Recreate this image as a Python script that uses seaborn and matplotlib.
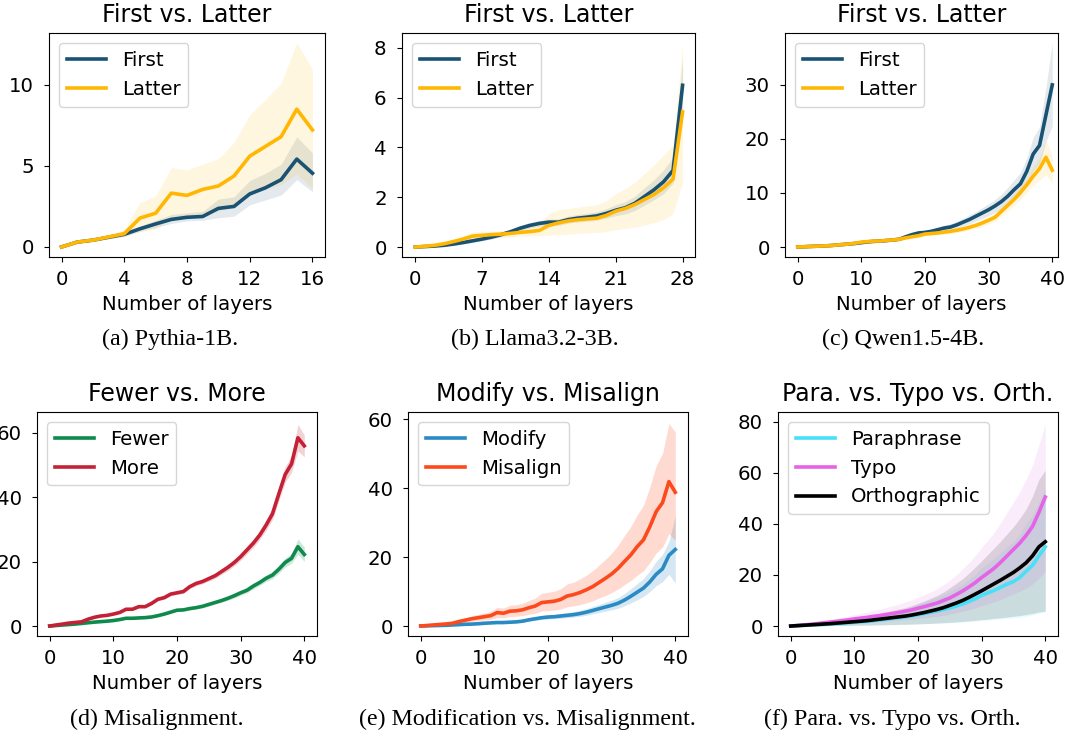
import matplotlib
matplotlib.use("Agg")
import matplotlib.pyplot as plt
import numpy as np
import pandas as pd
import seaborn as sns

# ---------------------------------------------------------------- data
layers_a = list(range(17))
layers_b = list(range(29))
layers_40 = list(range(41))

# (a) Pythia-1B
first_a = [0, 0.3, 0.42, 0.6, 0.78, 1.12, 1.42, 1.70, 1.83, 1.88, 2.38, 2.50, 3.27, 3.65, 4.15, 5.42, 4.55]
first_a_lo = [0, 0.25, 0.35, 0.5, 0.66, 0.95, 1.2, 1.45, 1.6, 1.65, 1.8, 1.9, 2.6, 2.9, 3.2, 4.15, 3.4]
first_a_hi = [0, 0.35, 0.5, 0.7, 0.9, 1.3, 1.65, 2.0, 2.1, 2.2, 2.95, 3.1, 4.1, 4.55, 5.1, 6.8, 5.8]
latter_a = [0, 0.3, 0.42, 0.62, 0.82, 1.78, 2.08, 3.32, 3.18, 3.55, 3.76, 4.38, 5.60, 6.20, 6.80, 8.50, 7.22]
latter_a_lo = [0, 0.25, 0.35, 0.5, 0.62, 1.0, 1.1, 1.8, 1.75, 2.0, 2.2, 2.55, 3.25, 3.55, 3.85, 4.5, 3.6]
latter_a_hi = [0, 0.35, 0.5, 0.75, 1.05, 2.75, 3.15, 4.9, 4.75, 5.1, 5.45, 6.45, 8.15, 9.1, 10.1, 12.6, 10.95]

# (b) Llama3.2-3B
first_b = [0, 0.02, 0.04, 0.07, 0.12, 0.18, 0.25, 0.32, 0.4, 0.5, 0.62, 0.76, 0.87, 0.95, 1.0,
           1.0, 1.1, 1.16, 1.2, 1.25, 1.35, 1.48, 1.58, 1.76, 2.03, 2.3, 2.62, 3.08, 6.5]
first_b_lo = [0, 0.01, 0.02, 0.04, 0.08, 0.13, 0.19, 0.25, 0.32, 0.42, 0.53, 0.66, 0.76, 0.83, 0.88,
              0.87, 0.96, 1.01, 1.04, 1.08, 1.16, 1.26, 1.33, 1.47, 1.68, 1.9, 2.14, 2.56, 5.4]
first_b_hi = [0, 0.03, 0.06, 0.1, 0.16, 0.23, 0.31, 0.39, 0.48, 0.58, 0.71, 0.86, 0.98, 1.07, 1.12,
              1.13, 1.24, 1.31, 1.36, 1.42, 1.54, 1.7, 1.83, 2.05, 2.38, 2.7, 3.1, 3.6, 7.6]
latter_b = [0, 0.03, 0.07, 0.13, 0.22, 0.32, 0.44, 0.47, 0.5, 0.52, 0.55, 0.59, 0.62, 0.67, 0.87,
            0.97, 1.05, 1.1, 1.13, 1.16, 1.27, 1.44, 1.55, 1.71, 1.91, 2.11, 2.38, 2.73, 5.43]
latter_b_lo = [0, 0.01, 0.03, 0.07, 0.12, 0.2, 0.3, 0.33, 0.36, 0.38, 0.4, 0.42, 0.44, 0.45, 0.48,
               0.5, 0.52, 0.55, 0.57, 0.58, 0.62, 0.7, 0.75, 0.8, 0.88, 0.98, 1.1, 1.35, 2.6]
latter_b_hi = [0, 0.05, 0.1, 0.2, 0.32, 0.45, 0.6, 0.62, 0.63, 0.65, 0.7, 0.78, 0.85, 0.95, 1.35,
               1.5, 1.55, 1.6, 1.65, 1.7, 1.85, 2.15, 2.35, 2.6, 2.95, 3.3, 3.7, 4.1, 8.15]

# (c) Qwen1.5-4B
first_c = [0, 0.05, 0.1, 0.15, 0.2, 0.25, 0.35, 0.45, 0.55, 0.65, 0.8, 0.95, 1.05, 1.1, 1.2, 1.3,
           1.45, 1.9, 2.3, 2.6, 2.7, 2.9, 3.2, 3.5, 3.7, 4.1, 4.6, 5.1, 5.7, 6.3, 6.9, 7.6, 8.4,
           9.4, 10.6, 11.7, 14.0, 17.2, 18.8, 24.4, 30.0]
first_c_lo = [0, 0.03, 0.07, 0.11, 0.15, 0.19, 0.27, 0.36, 0.44, 0.52, 0.65, 0.78, 0.86, 0.9, 0.98,
              1.06, 1.18, 1.6, 1.95, 2.2, 2.28, 2.45, 2.7, 2.95, 3.1, 3.45, 3.9, 4.3, 4.8, 5.3, 5.8,
              6.4, 7.0, 7.8, 8.8, 9.6, 11.5, 14.1, 15.4, 19.5, 22.4]
first_c_hi = [0, 0.07, 0.13, 0.19, 0.25, 0.31, 0.43, 0.54, 0.66, 0.78, 0.95, 1.12, 1.24, 1.3, 1.42,
              1.54, 1.72, 2.2, 2.65, 3.0, 3.12, 3.35, 3.7, 4.05, 4.3, 4.75, 5.3, 5.9, 6.6, 7.3, 8.0,
              8.8, 9.8, 11.0, 12.4, 13.8, 16.5, 20.3, 22.2, 29.5, 37.8]
latter_c = [0, 0.05, 0.1, 0.15, 0.2, 0.25, 0.35, 0.45, 0.55, 0.7, 0.9, 1.0, 1.1, 1.1, 1.25, 1.3,
            1.45, 1.7, 1.9, 2.1, 2.4, 2.5, 2.6, 2.75, 2.9, 3.1, 3.35, 3.65, 4.0, 4.45, 4.95, 5.5,
            6.6, 7.7, 8.8, 10.1, 11.5, 13.1, 14.5, 16.6, 14.2]
latter_c_lo = [0, 0.03, 0.07, 0.11, 0.15, 0.19, 0.27, 0.36, 0.44, 0.57, 0.75, 0.83, 0.92, 0.91, 1.05,
               1.09, 1.22, 1.44, 1.62, 1.8, 2.06, 2.14, 2.23, 2.36, 2.49, 2.66, 2.88, 3.14, 3.44,
               3.83, 4.26, 4.73, 5.7, 6.7, 7.65, 8.8, 10.1, 11.4, 12.4, 13.4, 11.8]
latter_c_hi = [0, 0.07, 0.13, 0.19, 0.25, 0.31, 0.43, 0.54, 0.66, 0.83, 1.05, 1.17, 1.28, 1.29, 1.45,
               1.51, 1.68, 1.96, 2.18, 2.4, 2.74, 2.86, 2.97, 3.14, 3.31, 3.54, 3.82, 4.16, 4.56,
               5.07, 5.64, 6.27, 7.5, 8.7, 9.95, 11.4, 12.9, 14.8, 16.6, 19.8, 17.0]

# (d) Misalignment
fewer_d = [0, 0.15, 0.3, 0.45, 0.6, 0.8, 1.0, 1.2, 1.35, 1.5, 1.7, 2.0, 2.4, 2.4, 2.5, 2.6, 2.8,
           3.2, 3.7, 4.3, 4.9, 5.0, 5.4, 5.7, 6.1, 6.7, 7.3, 7.9, 8.6, 9.4, 10.3, 11.1, 12.4, 13.5,
           14.8, 15.8, 17.6, 19.7, 21.0, 24.6, 22.2]
fewer_d_lo = [0, 0.14, 0.28, 0.42, 0.56, 0.74, 0.93, 1.12, 1.26, 1.4, 1.58, 1.86, 2.23, 2.23, 2.33,
              2.42, 2.6, 2.98, 3.44, 4.0, 4.56, 4.65, 5.02, 5.3, 5.67, 6.23, 6.8, 7.35, 8.0, 8.7,
              9.6, 10.3, 11.5, 12.6, 13.8, 14.7, 16.4, 18.3, 19.5, 22.3, 20.0]
fewer_d_hi = [0, 0.16, 0.32, 0.48, 0.64, 0.86, 1.07, 1.28, 1.44, 1.6, 1.82, 2.14, 2.57, 2.57, 2.68,
              2.78, 3.0, 3.42, 3.96, 4.6, 5.24, 5.35, 5.78, 6.1, 6.53, 7.17, 7.8, 8.45, 9.2, 10.1,
              11.0, 11.9, 13.3, 14.4, 15.8, 16.9, 18.8, 21.1, 22.5, 27.0, 24.5]
more_d = [0, 0.3, 0.6, 0.9, 1.1, 1.3, 2.1, 2.7, 3.1, 3.3, 3.7, 4.2, 5.2, 5.2, 6.0, 6.0, 7.0, 8.3,
          8.8, 9.9, 10.3, 10.7, 12.2, 13.2, 13.8, 14.7, 15.6, 16.9, 18.2, 19.7, 21.5, 23.6, 25.7,
          28.2, 31.3, 34.8, 41.0, 47.0, 50.3, 58.4, 55.9]
more_d_lo = [0, 0.28, 0.56, 0.85, 1.03, 1.22, 2.0, 2.56, 2.93, 3.12, 3.5, 3.97, 4.93, 4.93, 5.7, 5.7,
             6.64, 7.88, 8.35, 9.4, 9.8, 10.15, 11.6, 12.5, 13.1, 13.95, 14.8, 16.0, 17.2, 18.7,
             20.4, 22.4, 24.4, 26.8, 29.7, 33.0, 38.9, 44.6, 47.7, 54.3, 52.5]
more_d_hi = [0, 0.32, 0.64, 0.95, 1.17, 1.38, 2.2, 2.85, 3.27, 3.48, 3.9, 4.43, 5.47, 5.47, 6.3, 6.3,
             7.36, 8.72, 9.25, 10.4, 10.8, 11.25, 12.8, 13.9, 14.5, 15.45, 16.4, 17.8, 19.2, 20.7,
             22.6, 24.8, 27.0, 29.6, 32.9, 36.6, 43.1, 49.4, 52.9, 62.5, 59.3]

# (e) Modification vs. Misalignment
modify_e = [0, 0.05, 0.1, 0.15, 0.2, 0.3, 0.4, 0.5, 0.55, 0.65, 0.8, 0.9, 1.0, 1.0, 1.1, 1.2, 1.4,
            1.8, 2.1, 2.4, 2.6, 2.7, 2.9, 3.1, 3.3, 3.6, 4.0, 4.5, 5.0, 5.5, 6.0, 6.6, 7.5, 8.6,
            9.8, 11.0, 12.8, 15.0, 16.6, 20.5, 22.2]
modify_e_lo = [0, 0.04, 0.08, 0.12, 0.16, 0.23, 0.31, 0.39, 0.43, 0.51, 0.62, 0.7, 0.78, 0.78, 0.86,
               0.94, 1.09, 1.4, 1.64, 1.87, 2.03, 2.11, 2.26, 2.42, 2.57, 2.81, 3.12, 3.51, 3.9,
               4.29, 4.68, 5.15, 5.85, 6.7, 7.6, 8.6, 10.0, 11.7, 12.9, 15.0, 12.5]
modify_e_hi = [0, 0.06, 0.13, 0.19, 0.25, 0.38, 0.5, 0.63, 0.69, 0.81, 1.0, 1.13, 1.25, 1.25, 1.38,
               1.5, 1.75, 2.25, 2.63, 3.0, 3.25, 3.38, 3.63, 3.88, 4.13, 4.5, 5.0, 5.63, 6.25, 6.88,
               7.5, 8.25, 9.4, 10.8, 12.3, 13.8, 16.0, 18.8, 20.8, 24.5, 32.0]
misalign_e = [0, 0.15, 0.3, 0.45, 0.6, 0.8, 1.3, 1.7, 2.1, 2.4, 2.7, 3.0, 3.9, 3.7, 4.3, 4.4, 4.7,
              5.3, 5.8, 6.8, 7.0, 7.2, 7.7, 8.7, 9.1, 9.7, 10.5, 11.4, 12.6, 13.8, 15.1, 16.7, 18.7,
              20.6, 23.0, 25.0, 28.8, 33.2, 35.8, 41.9, 38.8]
misalign_e_lo = [0, 0.1, 0.19, 0.29, 0.38, 0.51, 0.83, 1.1, 1.34, 1.54, 1.73, 1.92, 2.5, 2.37, 2.75,
                 2.82, 3.0, 3.4, 3.7, 4.35, 4.48, 4.6, 4.93, 5.57, 5.82, 6.2, 6.7, 7.3, 8.1, 8.8,
                 9.7, 10.7, 12.0, 13.2, 14.7, 16.0, 18.4, 21.2, 22.9, 26.8, 24.8]
misalign_e_hi = [0, 0.2, 0.4, 0.6, 0.85, 1.1, 1.8, 2.4, 2.9, 3.4, 3.8, 4.2, 5.4, 5.2, 6.0, 6.2, 6.6,
                 7.4, 8.1, 9.5, 9.8, 10.1, 10.8, 12.2, 12.7, 13.6, 14.7, 16.0, 17.6, 19.3, 21.1,
                 23.4, 26.2, 28.8, 32.2, 35.0, 40.3, 46.5, 50.1, 58.7, 56.3]

# (f) Paraphrase vs. Typo vs. Orthographic
para_f = [0, 0.12, 0.25, 0.37, 0.5, 0.6, 0.75, 0.9, 1.05, 1.25, 1.45, 1.65, 1.85, 2.1, 2.4, 2.7,
          3.0, 3.3, 3.6, 4.0, 4.4, 4.9, 5.4, 5.9, 6.5, 7.1, 7.8, 8.6, 9.6, 10.7, 12.0, 13.0, 14.0,
          15.2, 16.4, 17.4, 19.0, 21.5, 23.8, 27.5, 31.0]
para_f_lo = [0, 0.02, 0.05, 0.07, 0.09, 0.11, 0.14, 0.16, 0.19, 0.23, 0.26, 0.3, 0.33, 0.38, 0.43,
             0.49, 0.54, 0.59, 0.65, 0.72, 0.79, 0.88, 0.97, 1.06, 1.17, 1.28, 1.4, 1.55, 1.73,
             1.93, 2.16, 2.34, 2.52, 2.74, 2.95, 3.13, 3.42, 3.87, 4.28, 4.95, 5.6]
para_f_hi = [0, 0.23, 0.48, 0.7, 0.95, 1.14, 1.43, 1.7, 2.0, 2.4, 2.75, 3.1, 3.5, 4.0, 4.6, 5.1,
             5.7, 6.3, 6.8, 7.6, 8.4, 9.3, 10.3, 11.2, 12.4, 13.5, 14.8, 16.3, 18.2, 20.3, 22.8,
             24.7, 26.6, 28.9, 31.2, 33.1, 36.1, 40.0, 43.5, 48.5, 54.0]
typo_f = [0, 0.2, 0.4, 0.65, 0.9, 1.2, 1.5, 1.8, 2.1, 2.4, 2.8, 3.1, 3.4, 3.8, 4.1, 4.5, 4.9, 5.3,
          5.8, 6.3, 7.0, 7.6, 8.3, 9.0, 10.0, 11.0, 12.3, 13.7, 15.3, 17.0, 19.0, 20.8, 22.7, 25.0,
          27.5, 30.0, 32.5, 35.5, 39.0, 44.5, 50.5]
typo_f_lo = [0, 0.08, 0.17, 0.27, 0.38, 0.5, 0.63, 0.76, 0.88, 1.0, 1.18, 1.3, 1.43, 1.6, 1.72, 1.89,
             2.06, 2.23, 2.44, 2.65, 2.94, 3.2, 3.5, 3.8, 4.2, 4.6, 5.2, 5.8, 6.4, 7.1, 8.0, 8.7,
             9.5, 10.5, 11.5, 12.6, 13.6, 14.9, 16.4, 18.7, 21.2]
typo_f_hi = [0, 0.3, 0.6, 1.0, 1.4, 1.9, 2.4, 2.9, 3.4, 3.9, 4.5, 5.0, 5.5, 6.1, 6.6, 7.3, 7.9, 8.6,
             9.4, 10.2, 11.3, 12.3, 13.4, 14.6, 16.2, 17.9, 20.0, 22.3, 24.8, 27.6, 30.8, 33.7,
             36.8, 40.5, 44.5, 48.5, 52.6, 57.5, 63.0, 71.0, 79.0]
ortho_f = [0, 0.15, 0.3, 0.45, 0.6, 0.75, 0.9, 1.1, 1.3, 1.5, 1.7, 1.9, 2.1, 2.4, 2.7, 3.0, 3.3,
           3.6, 3.9, 4.3, 4.8, 5.3, 5.9, 6.5, 7.2, 8.1, 9.0, 10.0, 11.2, 12.5, 13.8, 15.2, 16.6,
           18.0, 19.5, 21.0, 22.8, 24.8, 27.5, 31.0, 33.0]
ortho_f_lo = [0, 0.03, 0.05, 0.08, 0.11, 0.14, 0.16, 0.2, 0.23, 0.27, 0.31, 0.34, 0.38, 0.43, 0.49,
              0.54, 0.59, 0.65, 0.7, 0.77, 0.86, 0.95, 1.06, 1.17, 1.3, 1.46, 1.62, 1.8, 2.0, 2.25,
              2.5, 2.7, 3.0, 3.2, 3.5, 3.8, 4.1, 4.5, 4.9, 5.5, 5.8]
ortho_f_hi = [0, 0.28, 0.56, 0.83, 1.1, 1.4, 1.7, 2.0, 2.4, 2.8, 3.1, 3.5, 3.9, 4.4, 5.0, 5.6, 6.1,
              6.7, 7.2, 8.0, 8.9, 9.8, 10.9, 12.0, 13.3, 15.0, 16.7, 18.5, 20.7, 23.1, 25.5, 28.1,
              30.7, 33.3, 36.1, 38.9, 42.2, 45.9, 50.9, 57.4, 61.0]

titles = ["First vs. Latter", "First vs. Latter", "First vs. Latter",
          "Fewer vs. More", "Modify vs. Misalign", "Para. vs. Typo vs. Orth."]
captions = ["(a) Pythia-1B.", "(b) Llama3.2-3B.", "(c) Qwen1.5-4B.",
            "(d) Misalignment.", "(e) Modification vs. Misalignment.",
            "(f) Para. vs. Typo vs. Orth."]
xticks_a = [0, 4, 8, 12, 16]
xticks_b = [0, 7, 14, 21, 28]
xticks_40 = [0, 10, 20, 30, 40]
yticks_a = [0, 5, 10]
yticks_b = [0, 2, 4, 6, 8]
yticks_c = [0, 10, 20, 30]
yticks_de = [0, 20, 40, 60]
yticks_f = [0, 20, 40, 60, 80]

colors = {
    "First": "#1a5273", "Latter": "#ffb703",
    "Fewer": "#0e8a4c", "More": "#c42136",
    "Modify": "#2a8bc4", "Misalign": "#fc4a1c",
    "Paraphrase": "#48e0f7", "Typo": "#e563e6", "Orthographic": "#000000",
}

# ---------------------------------------------------------------- style
plt.rcParams.update({
    "font.family": ["DejaVu Sans"],
    "font.size": 14.2,
    "axes.titlesize": 17,
    "axes.labelsize": 14.2,
    "xtick.labelsize": 14.2,
    "ytick.labelsize": 14.2,
    "legend.fontsize": 14.2,
    "xtick.major.pad": 6,
    "ytick.major.pad": 7.5,
})

W, H = 1071, 736
fig = plt.figure(figsize=(W / 100, H / 100), dpi=100)


def add_axes_px(left, top, right, bottom):
    return fig.add_axes([left / W, 1 - bottom / H, (right - left) / W, (bottom - top) / H])


def draw_panel(ax, layers, series, xticks, yticks, xlim, ylim, title, band_alpha):
    names = [s[0] for s in series]
    frames = []
    for name, mean, lo, hi in series:
        frames.append(pd.DataFrame({"layer": layers, "value": mean, "series": name}))
    df = pd.concat(frames, ignore_index=True)
    for name, mean, lo, hi in series:
        ax.fill_between(layers, lo, hi, color=colors[name], alpha=band_alpha, linewidth=0)
    sns.lineplot(data=df, x="layer", y="value", hue="series", hue_order=names,
                 palette={n: colors[n] for n in names}, errorbar=None,
                 linewidth=2.6, ax=ax)
    leg = ax.get_legend()
    handles = list(leg.legend_handles)
    labels = [t.get_text() for t in leg.get_texts()]
    leg.remove()
    for h in handles:
        h.set_linewidth(2.6)
    ax.legend(handles, labels, loc="upper left")
    ax.set_xticks(xticks)
    ax.set_yticks(yticks)
    ax.set_xlim(*xlim)
    ax.set_ylim(*ylim)
    ax.set_xlabel("Number of layers", labelpad=4)
    ax.set_ylabel("")
    ax.set_title(title, pad=8)


# axes rectangles in pixels: left, top, right, bottom
rects = [(49, 33, 325, 257), (402, 33, 695, 257), (785, 33, 1058, 257),
         (37, 412, 317, 636), (408, 412, 688, 636), (778, 412, 1058, 636)]
axes = [add_axes_px(*r) for r in rects]

draw_panel(axes[0], layers_a,
           [("First", first_a, first_a_lo, first_a_hi),
            ("Latter", latter_a, latter_a_lo, latter_a_hi)],
           xticks_a, yticks_a, (-0.8, 16.8), (-0.62, 13.2), titles[0], 0.12)
draw_panel(axes[1], layers_b,
           [("First", first_b, first_b_lo, first_b_hi),
            ("Latter", latter_b, latter_b_lo, latter_b_hi)],
           xticks_b, yticks_b, (-1.4, 29.3), (-0.4, 8.6), titles[1], 0.12)
draw_panel(axes[2], layers_40,
           [("First", first_c, first_c_lo, first_c_hi),
            ("Latter", latter_c, latter_c_lo, latter_c_hi)],
           xticks_40, yticks_c, (-2, 40.9), (-1.85, 39.6), titles[2], 0.12)
draw_panel(axes[3], layers_40,
           [("Fewer", fewer_d, fewer_d_lo, fewer_d_hi),
            ("More", more_d, more_d_lo, more_d_hi)],
           xticks_40, yticks_de, (-2, 42), (-3.1, 66.4), titles[3], 0.2)
draw_panel(axes[4], layers_40,
           [("Modify", modify_e, modify_e_lo, modify_e_hi),
            ("Misalign", misalign_e, misalign_e_lo, misalign_e_hi)],
           xticks_40, yticks_de, (-2, 42), (-2.9, 62.1), titles[4], 0.2)
draw_panel(axes[5], layers_40,
           [("Paraphrase", para_f, para_f_lo, para_f_hi),
            ("Typo", typo_f, typo_f_lo, typo_f_hi),
            ("Orthographic", ortho_f, ortho_f_lo, ortho_f_hi)],
           xticks_40, yticks_f, (-2, 42), (-3.9, 83.8), titles[5], 0.12)

# sub-figure captions
caption_pos = [(170, 339), (535, 339), (903, 339), (157, 719), (527, 719), (892, 719)]
for (cx, cy), text in zip(caption_pos, captions):
    fig.text(cx / W, 1 - cy / H, text, ha="center", va="center", fontsize=17.3,
             family=["Liberation Serif", "DejaVu Serif"])

fig.savefig("out.png", dpi=100)
